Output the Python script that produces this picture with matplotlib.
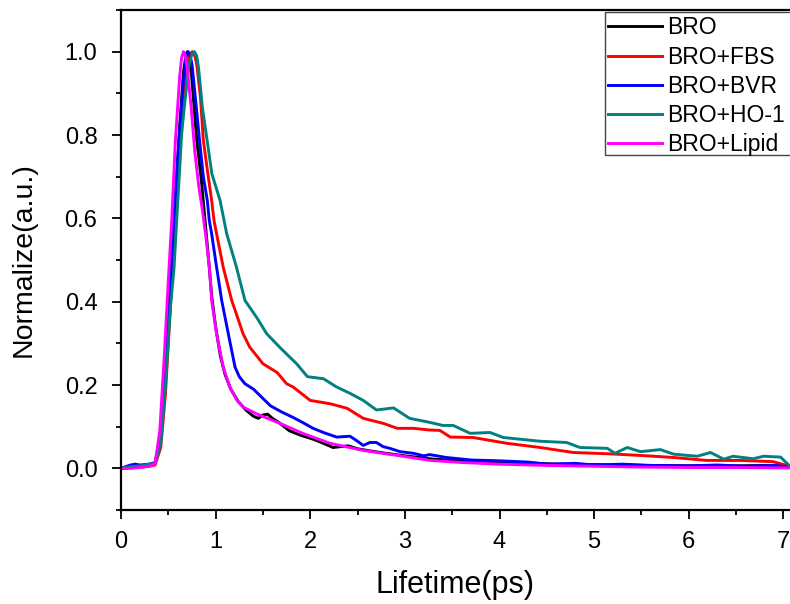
import matplotlib
matplotlib.use("Agg")
import matplotlib.pyplot as plt
from matplotlib.ticker import MultipleLocator
from matplotlib.patches import Rectangle

plt.rcParams['font.family'] = ['Liberation Sans', 'DejaVu Sans']

labels = ["BRO", "BRO+FBS", "BRO+BVR", "BRO+HO-1", "BRO+Lipid"]
colors = ["#000000", "#ff0000", "#0000ff", "#008080", "#ff00ff"]

bro_x = [0, 0.1, 0.2, 0.3, 0.36, 0.42, 0.47, 0.52, 0.57, 0.62, 0.66, 0.685, 0.70, 0.72, 0.74, 0.80, 0.85, 0.89,
         0.93, 0.96, 1.00, 1.05, 1.10, 1.16, 1.24, 1.32, 1.40, 1.45, 1.50, 1.55, 1.60, 1.68, 1.78,
         1.89, 2.03, 2.14, 2.24, 2.32, 2.40, 2.50, 2.60, 2.80, 3.00, 3.30, 3.60, 4.00, 4.30, 4.60,
         5.00, 5.50, 6.00, 6.50, 6.90, 7.07]
bro_y = [0, 0.002, 0.003, 0.006, 0.012, 0.08, 0.25, 0.45, 0.63, 0.82, 0.95, 0.99, 1.0, 0.99, 0.96, 0.79, 0.69, 0.59,
         0.49, 0.41, 0.34, 0.27, 0.225, 0.19, 0.16, 0.14, 0.125, 0.12, 0.128, 0.13, 0.12, 0.108, 0.09,
         0.08, 0.07, 0.06, 0.05, 0.052, 0.054, 0.047, 0.043, 0.036, 0.03, 0.022, 0.018, 0.015, 0.013, 0.01,
         0.009, 0.007, 0.006, 0.006, 0.007, 0.004]

fbs_x = [0, 0.1, 0.2, 0.3, 0.36, 0.42, 0.47, 0.52, 0.56, 0.60, 0.65, 0.70, 0.73, 0.754, 0.78, 0.80, 0.84, 0.87,
         0.91, 0.958, 0.983, 1.01, 1.08, 1.17, 1.22, 1.29, 1.36, 1.50, 1.65, 1.75, 1.82, 2.00, 2.21,
         2.39, 2.56, 2.77, 2.92, 3.09, 3.26, 3.37, 3.48, 3.72, 4.08, 4.43, 4.78, 5.14, 5.49, 5.84,
         6.19, 6.54, 6.89, 7.07]
fbs_y = [0, 0.002, 0.003, 0.005, 0.008, 0.05, 0.18, 0.38, 0.56, 0.70, 0.88, 0.97, 0.995, 1.0, 0.99, 0.97, 0.89, 0.787,
         0.72, 0.643, 0.595, 0.563, 0.483, 0.403, 0.37, 0.323, 0.291, 0.251, 0.23, 0.203, 0.195, 0.163, 0.155,
         0.144, 0.12, 0.108, 0.096, 0.096, 0.092, 0.091, 0.075, 0.074, 0.06, 0.05, 0.038, 0.035, 0.031, 0.026,
         0.019, 0.019, 0.016, 0.005]

bvr_x = [0, 0.1, 0.15, 0.2, 0.3, 0.36, 0.42, 0.47, 0.52, 0.56, 0.61, 0.66, 0.69, 0.71, 0.73, 0.75, 0.79, 0.83,
         0.87, 0.912, 0.933, 0.958, 1.01, 1.064, 1.134, 1.205, 1.25, 1.31, 1.40, 1.49, 1.58, 1.70, 1.82,
         1.92, 2.03, 2.15, 2.28, 2.35, 2.42, 2.50, 2.56, 2.63, 2.70, 2.77, 2.84, 2.95, 3.09, 3.20, 3.26,
         3.44, 3.70, 4.00, 4.30, 4.50, 4.80, 5.00, 5.30, 5.60, 6.00, 6.30, 6.60, 6.90, 7.07]
bvr_y = [0, 0.008, 0.01, 0.008, 0.01, 0.014, 0.07, 0.22, 0.42, 0.595, 0.78, 0.93, 0.99, 1.0, 0.99, 0.97, 0.88, 0.787,
         0.70, 0.643, 0.595, 0.563, 0.483, 0.403, 0.323, 0.243, 0.22, 0.203, 0.19, 0.17, 0.15, 0.135, 0.122,
         0.11, 0.096, 0.085, 0.075, 0.076, 0.077, 0.065, 0.055, 0.062, 0.062, 0.052, 0.048, 0.04, 0.036, 0.03, 0.033,
         0.026, 0.02, 0.018, 0.015, 0.01, 0.012, 0.008, 0.01, 0.007, 0.006, 0.008, 0.005, 0.007, 0.003]

ho1_x = [0, 0.1, 0.2, 0.3, 0.36, 0.42, 0.47, 0.52, 0.56, 0.60, 0.64, 0.67, 0.72, 0.75, 0.775, 0.80, 0.82, 0.86,
         0.91, 0.96, 1.047, 1.117, 1.22, 1.31, 1.44, 1.54, 1.68, 1.86, 1.97, 2.14, 2.28, 2.42, 2.56,
         2.70, 2.88, 3.05, 3.27, 3.40, 3.51, 3.69, 3.90, 4.04, 4.43, 4.71, 4.85, 5.14, 5.22, 5.35, 5.49,
         5.70, 5.84, 6.09, 6.23, 6.37, 6.47, 6.68, 6.79, 6.97, 7.07]
ho1_y = [0, 0.004, 0.006, 0.01, 0.012, 0.06, 0.2, 0.38, 0.48, 0.64, 0.80, 0.87, 0.97, 0.995, 1.0, 0.99, 0.96, 0.866,
         0.787, 0.707, 0.643, 0.563, 0.483, 0.403, 0.36, 0.323, 0.29, 0.25, 0.22, 0.215, 0.195, 0.18, 0.163,
         0.14, 0.145, 0.12, 0.11, 0.103, 0.103, 0.084, 0.086, 0.074, 0.065, 0.062, 0.05, 0.048, 0.036, 0.05, 0.04,
         0.045, 0.034, 0.029, 0.038, 0.022, 0.029, 0.023, 0.029, 0.027, 0.005]

lipid_x = [0, 0.1, 0.2, 0.3, 0.36, 0.41, 0.46, 0.50, 0.536, 0.575, 0.62, 0.64, 0.66, 0.68, 0.70, 0.74, 0.78, 0.82,
           0.86, 0.90, 0.934, 0.958, 1.01, 1.08, 1.15, 1.22, 1.29, 1.44, 1.68, 1.92, 2.21, 2.56, 2.92,
           3.27, 3.60, 4.00, 4.50, 5.00, 5.50, 6.00, 6.50, 7.07]
lipid_y = [0, 0.0, 0.002, 0.005, 0.012, 0.09, 0.28, 0.45, 0.595, 0.787, 0.94, 0.985, 1.0, 0.99, 0.96, 0.87, 0.76, 0.68,
           0.62, 0.55, 0.483, 0.403, 0.323, 0.243, 0.195, 0.165, 0.147, 0.13, 0.108, 0.084, 0.06, 0.043, 0.031,
           0.019, 0.014, 0.01, 0.007, 0.005, 0.003, 0.002, 0.002, 0.001]

series = [(bro_x, bro_y), (fbs_x, fbs_y), (bvr_x, bvr_y), (ho1_x, ho1_y), (lipid_x, lipid_y)]

fig = plt.figure(figsize=(7.9, 6.04), dpi=100)
ax = fig.add_axes([121 / 790, 94 / 604, 1 - 121 / 790, 500 / 604])

for (xs, ys), lab, col in zip(series, labels, colors):
    ax.plot(xs, ys, color=col, lw=2.1, label=lab, solid_joinstyle='round')

ax.set_xlim(0, 7.07)
ax.set_ylim(-0.1, 1.1)
ax.xaxis.set_major_locator(MultipleLocator(1))
ax.xaxis.set_minor_locator(MultipleLocator(0.5))
ax.yaxis.set_major_locator(MultipleLocator(0.2))
ax.yaxis.set_minor_locator(MultipleLocator(0.1))
ax.yaxis.set_major_formatter(matplotlib.ticker.FormatStrFormatter('%.1f'))

for s in ['left', 'bottom', 'top']:
    ax.spines[s].set_linewidth(1.6)
ax.spines['right'].set_visible(False)

ax.tick_params(which='major', direction='out', length=6.5, width=1.3, labelsize=17)
ax.tick_params(axis='x', which='major', pad=8.5)
ax.tick_params(axis='y', which='major', pad=10.5)
ax.tick_params(which='minor', direction='out', length=3.5, width=1.3)
ax.tick_params(top=False, right=False, which='both')

ax.set_xlabel("Lifetime(ps)", fontsize=22, labelpad=12)
ax.set_ylabel("Normalize(a.u.)", fontsize=20.5, labelpad=20)

# legend frame runs off the right edge of the (cropped) figure
frame = Rectangle((605 / 790, (604 - 155) / 604), 0.3, 143 / 604,
                  transform=fig.transFigure, facecolor='white',
                  edgecolor='#444444', linewidth=1.0, zorder=4, clip_on=False)
ax.add_patch(frame)

leg = ax.legend(loc='upper left', bbox_to_anchor=(605 / 790, (604 - 13) / 604),
                bbox_transform=fig.transFigure, fontsize=16.5, frameon=False,
                handlelength=2.35, handletextpad=0.2, labelspacing=0.27, borderpad=0.15,
                borderaxespad=0)
leg.set_zorder(6)

fig.savefig("out.png", dpi=100)
